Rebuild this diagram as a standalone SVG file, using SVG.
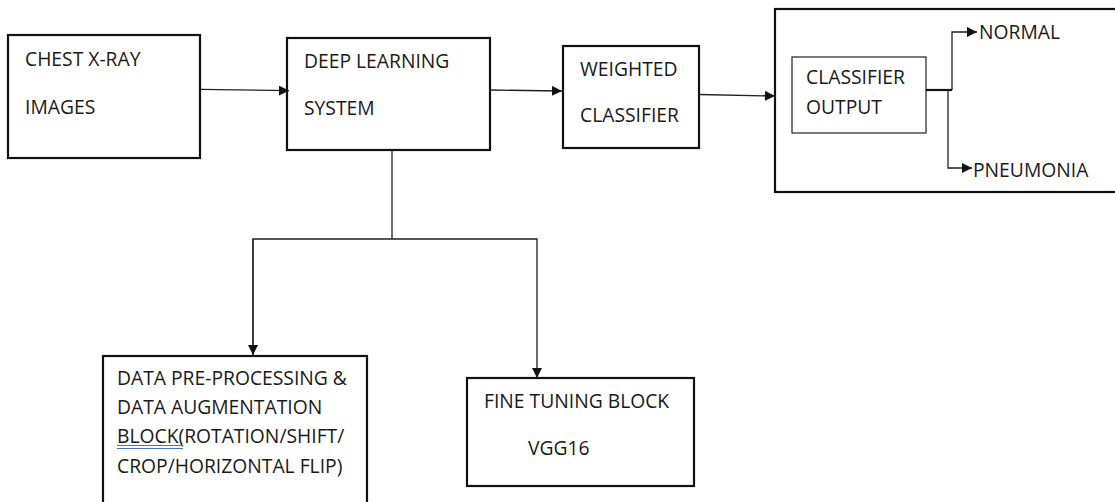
<svg xmlns="http://www.w3.org/2000/svg" width="1115" height="502" viewBox="0 0 1115 502">
<defs>
<style>
.box{fill:#fff;stroke:#111;stroke-width:2.2}
.thin{fill:#fff;stroke:#222;stroke-width:1.2}
.ln{fill:none;stroke:#222;stroke-width:1.3}
.t{font-family:"Open Sans","Liberation Sans",sans-serif;font-size:19.3px;fill:#1a1a1a}
</style>
<marker id="ah" viewBox="0 0 10 10" refX="10" refY="5" markerWidth="10" markerHeight="10" markerUnits="userSpaceOnUse" orient="auto">
<path d="M0,0 L10,5 L0,10 Z" fill="#111"/>
</marker>
</defs>
<rect width="1115" height="502" fill="#fff"/>
<g id="chest">
<rect class="box" x="8" y="35" width="192" height="123"/>
<text class="t" x="25" y="66">CHEST X-RAY</text>
<text class="t" x="25" y="114">IMAGES</text>
</g>
<g id="deep">
<rect class="box" x="287" y="38" width="203" height="112"/>
<text class="t" x="304" y="68">DEEP LEARNING</text>
<text class="t" x="304" y="115">SYSTEM</text>
</g>
<g id="weighted">
<rect class="box" x="563" y="46" width="136" height="102"/>
<text class="t" x="580" y="76">WEIGHTED</text>
<text class="t" x="580" y="122">CLASSIFIER</text>
</g>
<g id="output">
<rect class="box" x="775" y="9" width="350" height="183"/>
<rect class="thin" x="792" y="57" width="134" height="76"/>
<text class="t" x="806" y="84">CLASSIFIER</text>
<text class="t" x="806" y="114">OUTPUT</text>
<text class="t" x="979" y="39">NORMAL</text>
<text class="t" x="973" y="177">PNEUMONIA</text>
</g>
<g id="preproc">
<rect class="box" x="103" y="356" width="264" height="160"/>
<text class="t" x="117" y="385">DATA PRE-PROCESSING &amp;</text>
<text class="t" x="117" y="414">DATA AUGMENTATION</text>
<text class="t" x="117" y="443">BLOCK(ROTATION/SHIFT/</text>
<text class="t" x="117" y="473">CROP/HORIZONTAL FLIP)</text>
<path d="M117,445.5 H183 M117,448.5 H183" stroke="#4a72c8" stroke-width="1" fill="none"/>
</g>
<g id="finetune">
<rect class="box" x="467" y="378" width="227" height="108"/>
<text class="t" x="484" y="408">FINE TUNING BLOCK</text>
<text class="t" x="528" y="455">VGG16</text>
</g>
<g id="connectors">
<path class="ln" d="M200,89.3 L289,90.7" marker-end="url(#ah)"/>
<path class="ln" d="M490,90 L562,91" marker-end="url(#ah)"/>
<path class="ln" d="M699,94.5 L775,96" marker-end="url(#ah)"/>
<path class="ln" d="M392,150 V239"/>
<path class="ln" d="M253,356 V239 H537 V378" marker-end="url(#ah)"/>
<path class="ln" d="M253,239 V355" marker-end="url(#ah)"/>
<path d="M926,90 H952" stroke="#111" stroke-width="2.2"/>
<path class="ln" d="M952,90 V32 H977" marker-end="url(#ah)"/>
<path class="ln" d="M948,90 V168 H972" marker-end="url(#ah)"/>
</g>
</svg>
